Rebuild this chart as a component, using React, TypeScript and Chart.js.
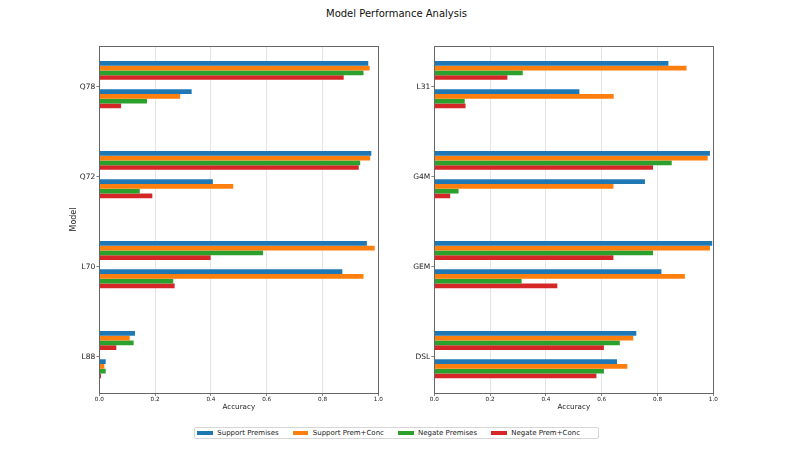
import React, { useEffect, useRef } from "react";
import { Chart, registerables } from "chart.js";

Chart.register(...registerables);

// ---------- data ----------
const LEFT_MODELS = ["Q78", "Q72", "L70", "L88"];
const RIGHT_MODELS = ["L31", "G4M", "GEM", "DSL"];

const SERIES_NAMES = ["Support Premises", "Support Prem+Conc", "Negate Premises", "Negate Prem+Conc"];
const SERIES_COLORS = ["#1f77b4", "#ff7f0e", "#2ca02c", "#d62728"];

// left panel, upper bar group per model
const LEFT_SUPPORT_PREMISES_A = [0.964, 0.975, 0.959, 0.128];
const LEFT_SUPPORT_PREMCONC_A = [0.969, 0.971, 0.987, 0.109];
const LEFT_NEGATE_PREMISES_A = [0.947, 0.935, 0.587, 0.123];
const LEFT_NEGATE_PREMCONC_A = [0.876, 0.930, 0.399, 0.061];
// left panel, lower bar group per model
const LEFT_SUPPORT_PREMISES_B = [0.331, 0.407, 0.871, 0.023];
const LEFT_SUPPORT_PREMCONC_B = [0.290, 0.480, 0.947, 0.018];
const LEFT_NEGATE_PREMISES_B = [0.171, 0.145, 0.265, 0.023];
const LEFT_NEGATE_PREMCONC_B = [0.078, 0.190, 0.270, 0.006];

// right panel, upper bar group per model
const RIGHT_SUPPORT_PREMISES_A = [0.839, 0.988, 0.996, 0.724];
const RIGHT_SUPPORT_PREMCONC_A = [0.904, 0.980, 0.988, 0.713];
const RIGHT_NEGATE_PREMISES_A = [0.317, 0.851, 0.784, 0.665];
const RIGHT_NEGATE_PREMCONC_A = [0.262, 0.784, 0.642, 0.608];
// right panel, lower bar group per model
const RIGHT_SUPPORT_PREMISES_B = [0.520, 0.755, 0.814, 0.655];
const RIGHT_SUPPORT_PREMCONC_B = [0.643, 0.642, 0.898, 0.692];
const RIGHT_NEGATE_PREMISES_B = [0.109, 0.087, 0.313, 0.608];
const RIGHT_NEGATE_PREMCONC_B = [0.112, 0.057, 0.441, 0.581];

const X_TICKS_STEP = 0.2;

const TITLE = "Model Performance Analysis";
const X_TITLE = "Accuracy";
const Y_TITLE = "Model";

const FONT = "'DejaVu Sans', 'Liberation Sans', sans-serif";

// ---------- helpers ----------
function buildDatasets(models: string[], groupA: number[][], groupB: number[][]) {
  const bar = (vals: number[], k: number) => ({
    label: SERIES_NAMES[k],
    data: models.map((_, i) => ({ x: vals[i], y: i })),
    backgroundColor: SERIES_COLORS[k],
    borderWidth: 0,
  });
  const spacer = () => ({
    label: "__spacer",
    data: models.map((_, i) => ({ x: 0, y: i })),
    backgroundColor: "rgba(0,0,0,0)",
    borderWidth: 0,
  });
  return [
    ...groupA.map((v, k) => bar(v, k)),
    spacer(),
    spacer(),
    ...groupB.map((v, k) => bar(v, k)),
    spacer(),
  ];
}

const framePlugin = {
  id: "frame",
  afterDatasetsDraw(chart: any) {
    const { ctx, chartArea } = chart;
    ctx.save();
    ctx.strokeStyle = "#666";
    ctx.lineWidth = 1;
    ctx.strokeRect(
      Math.round(chartArea.left) + 0.5,
      Math.round(chartArea.top) + 0.5,
      Math.round(chartArea.right - chartArea.left),
      Math.round(chartArea.bottom - chartArea.top)
    );
    ctx.restore();
  },
};

type PanelProps = {
  models: string[];
  groupA: number[][];
  groupB: number[][];
  left: number;
  yAxisWidth: number;
  padRight: number;
  showYTitle: boolean;
};

const CANVAS_W = 330;
const CANVAS_H = 420;

function Panel({ models, groupA, groupB, left, yAxisWidth, padRight, showYTitle }: PanelProps) {
  const ref = useRef<HTMLCanvasElement | null>(null);
  useEffect(() => {
    if (!ref.current) return;
    const chart = new Chart(ref.current, {
      type: "bar",
      data: { datasets: buildDatasets(models, groupA, groupB) as any },
      options: {
        indexAxis: "y",
        responsive: false,
        animation: false,
        events: [],
        datasets: { bar: { categoryPercentage: 0.578, barPercentage: 1.0 } },
        layout: { padding: { top: 46, right: padRight, bottom: 8.8, left: 0 } },
        plugins: { legend: { display: false }, tooltip: { enabled: false }, title: { display: false } },
        scales: {
          x: {
            type: "linear",
            min: 0,
            max: 1,
            offset: false,
            afterFit: (s: any) => { s.height = 18.2; },
            border: { display: false },
            grid: {
              display: true,
              offset: false,
              drawOnChartArea: true,
              drawTicks: true,
              tickLength: 3,
              color: "rgba(0,0,0,0.13)",
              lineWidth: 0.8,
              borderDash: [2, 2],
              tickColor: "#666",
              tickBorderDash: [],
              tickWidth: 0.8,
            } as any,
            ticks: {
              stepSize: X_TICKS_STEP,
              padding: 0,
              color: "#222",
              font: { family: FONT, size: 5.7 },
              callback: (v: any) => Number(v).toFixed(1),
            },
            title: {
              display: true,
              text: X_TITLE,
              color: "#222",
              font: { family: FONT, size: 7.2 },
              padding: { top: 0, bottom: 0.2 },
            },
          },
          y: {
            type: "linear",
            reverse: true,
            offset: false,
            min: -0.455,
            max: 3.4,
            afterFit: (s: any) => { s.width = yAxisWidth; },
            border: { display: false },
            grid: {
              display: true,
              offset: false,
              drawOnChartArea: false,
              drawTicks: true,
              tickLength: 3,
              tickColor: "#666",
              tickWidth: 0.8,
            },
            ticks: {
              stepSize: 1,
              includeBounds: false,
              autoSkip: false,
              padding: 1,
              color: "#222",
              font: { family: FONT, size: 7.5 },
              callback: (v: any) => (Number.isInteger(v) && models[v] !== undefined ? models[v] : ""),
            },
            title: {
              display: showYTitle,
              text: Y_TITLE,
              color: "#222",
              font: { family: FONT, size: 8 },
              padding: { top: 9.2, bottom: 0 },
            },
          },
        },
      } as any,
      plugins: [framePlugin],
    });
    return () => chart.destroy();
  }, []);
  return (
    <canvas
      ref={ref}
      width={CANVAS_W}
      height={CANVAS_H}
      style={{ position: "absolute", left, top: 0, width: CANVAS_W, height: CANVAS_H }}
    />
  );
}

function Legend() {
  return (
    <div
      style={{
        position: "absolute",
        left: 194,
        top: 426.7,
        width: 405,
        height: 12.6,
        boxSizing: "border-box",
        border: "1px solid #d6d6d6",
        borderRadius: 2,
        display: "flex",
        alignItems: "center",
        paddingLeft: 2.2,
        fontFamily: FONT,
        fontSize: 7,
        color: "#222",
        whiteSpace: "nowrap",
        background: "#fff",
      }}
    >
      {SERIES_NAMES.map((name, k) => (
        <div key={name} style={{ display: "flex", alignItems: "center", marginRight: k < 3 ? 14 : 0 }}>
          <span style={{ display: "inline-block", width: 15.6, height: 4.5, background: SERIES_COLORS[k], marginRight: 4.5 }} />
          <span>{name}</span>
        </div>
      ))}
    </div>
  );
}

export default function App() {
  return (
    <div style={{ position: "absolute", left: 0, top: 0, width: 793, height: 463, background: "#fff", overflow: "hidden" }}>
      <div
        style={{
          position: "absolute",
          left: 0,
          top: 8,
          width: 793,
          textAlign: "center",
          fontFamily: FONT,
          fontSize: 10,
          lineHeight: "12px",
          color: "#111",
        }}
      >
        {TITLE}
      </div>
      <Panel
        models={LEFT_MODELS}
        groupA={[LEFT_SUPPORT_PREMISES_A, LEFT_SUPPORT_PREMCONC_A, LEFT_NEGATE_PREMISES_A, LEFT_NEGATE_PREMCONC_A]}
        groupB={[LEFT_SUPPORT_PREMISES_B, LEFT_SUPPORT_PREMCONC_B, LEFT_NEGATE_PREMISES_B, LEFT_NEGATE_PREMCONC_B]}
        left={60}
        yAxisWidth={39.3}
        padRight={11.7}
        showYTitle={true}
      />
      <Panel
        models={RIGHT_MODELS}
        groupA={[RIGHT_SUPPORT_PREMISES_A, RIGHT_SUPPORT_PREMCONC_A, RIGHT_NEGATE_PREMISES_A, RIGHT_NEGATE_PREMCONC_A]}
        groupB={[RIGHT_SUPPORT_PREMISES_B, RIGHT_SUPPORT_PREMCONC_B, RIGHT_NEGATE_PREMISES_B, RIGHT_NEGATE_PREMCONC_B]}
        left={400}
        yAxisWidth={34.3}
        padRight={16.7}
        showYTitle={false}
      />
      <Legend />
    </div>
  );
}
